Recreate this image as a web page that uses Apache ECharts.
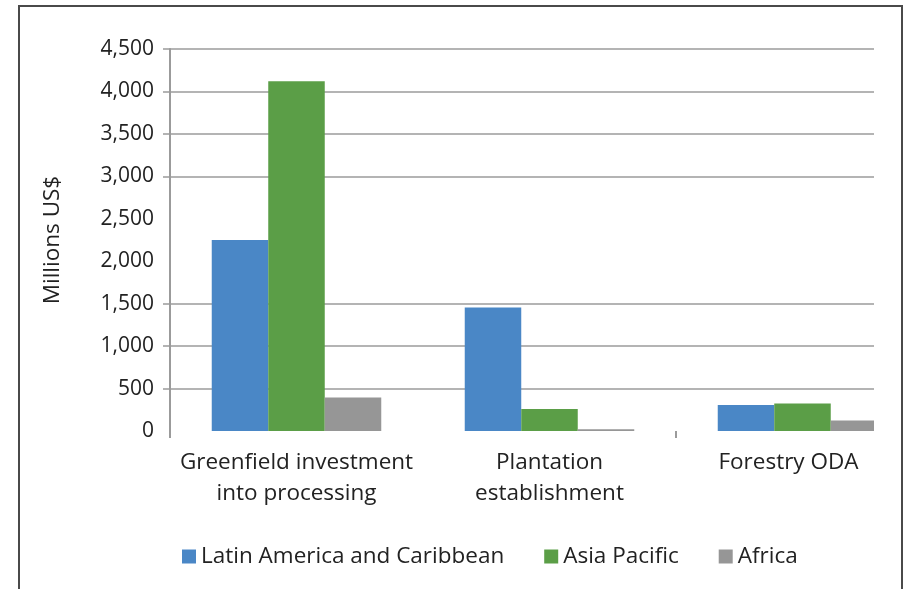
<!DOCTYPE html>
<html>
<head>
<meta charset="utf-8">
<script src="https://cdn.jsdelivr.net/npm/echarts@6/dist/echarts.min.js"></script>
<style>
    html, body { margin: 0; padding: 0; background: #fff; }
    .frame {
        position: absolute; left: 18px; top: 5px; width: 885px; height: 620px;
        box-sizing: border-box; border: 2px solid #4a4a4a; border-bottom: none;
    }
    #chart { position: absolute; left: 0; top: 0; width: 874px; height: 589px; }
</style>
</head>
<body>
<div class="frame"></div>
<div id="chart"></div>
<script>
// categories and values
const categories = ['Greenfield investment\ninto processing', 'Plantation\nestablishment', 'Forestry ODA'];
const latinAmerica = [2250, 1455, 305];
const asiaPacific = [4120, 260, 325];
const africa = [395, 20, 125];
const yTicks = [0, 500, 1000, 1500, 2000, 2500, 3000, 3500, 4000, 4500];
const hiddenGrid = [0, 2000, 2500]; // these gridlines are missing in the original

const fontFamily = '"Open Sans", "Noto Sans", sans-serif';
const gridColor = '#9b9b9b';
const textColor = '#222';
const bigFont = 22.5;

const fmt = (v) => String(v).replace(/\B(?=(\d{3})+(?!\d))/g, ',');

const chart = echarts.init(document.getElementById('chart'));

const barSeries = (name, data, color) => ({
    name: name,
    type: 'bar',
    data: data,
    barGap: 0,
    barCategoryGap: '33%',
    itemStyle: { color: color }
});

// last label sits a bit left of its group in the original (it was cut at the right edge)
const xData = categories.map((c, i) => i === categories.length - 1
    ? { value: c, textStyle: { padding: [0, 28, 0, 0] } }
    : c);

chart.setOption({
    animation: false,
    textStyle: { fontFamily: fontFamily },
    grid: { left: 170, top: 49, bottom: 158, right: -55, outerBoundsMode: 'none' },
    legend: {
        left: 177,
        top: 540,
        icon: 'rect',
        itemWidth: 14,
        itemHeight: 14,
        itemGap: 40,
        textStyle: { fontSize: bigFont, color: textColor, fontFamily: fontFamily },
        data: ['Latin America and Caribbean', 'Asia Pacific', 'Africa']
    },
    xAxis: {
        type: 'category',
        data: xData,
        axisLine: { show: false },
        axisTick: {
            show: true,
            length: 7,
            interval: (i) => i !== 1,
            lineStyle: { color: gridColor, width: 2 }
        },
        axisLabel: { fontSize: bigFont, color: textColor, lineHeight: 31, margin: 16, interval: 0 }
    },
    yAxis: [
        {
            type: 'value',
            min: 0,
            max: 4500,
            interval: 500,
            name: 'Millions US$',
            nameLocation: 'middle',
            nameGap: 106,
            nameTextStyle: { fontSize: bigFont, color: textColor },
            axisLine: { show: false },
            axisTick: { show: false },
            axisLabel: { fontSize: 21, color: textColor, margin: 16, formatter: fmt },
            splitLine: { show: false }
        },
        {
            // second axis only for the axis line, the short ticks and the gridlines
            type: 'category',
            data: yTicks.map(String),
            boundaryGap: false,
            position: 'left',
            axisLine: { show: true, lineStyle: { color: gridColor, width: 2 } },
            axisTick: {
                show: true,
                length: 7,
                interval: (i) => !hiddenGrid.includes(yTicks[i]),
                lineStyle: { color: gridColor, width: 1.5 }
            },
            axisLabel: { show: false },
            splitLine: {
                show: true,
                interval: (i) => !hiddenGrid.includes(yTicks[i]),
                lineStyle: { color: gridColor, width: 1.5 }
            }
        }
    ],
    series: [
        barSeries('Latin America and Caribbean', latinAmerica, '#4a87c6'),
        barSeries('Asia Pacific', asiaPacific, '#5b9e47'),
        barSeries('Africa', africa, '#969696')
    ]
});
</script>
</body>
</html>
